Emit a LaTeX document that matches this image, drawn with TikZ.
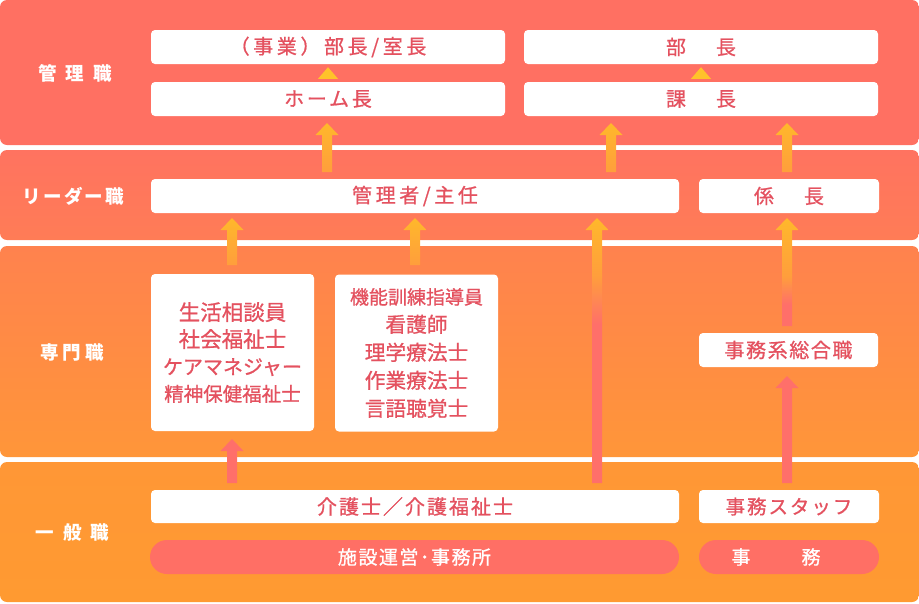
\documentclass[tikz,border=0pt]{standalone}
\usepackage{fontspec}
\setmainfont{Noto Sans CJK JP}
\usetikzlibrary{calc}
\definecolor{bandA}{HTML}{FF7062}
\definecolor{bandBt}{HTML}{FF7360}
\definecolor{bandBb}{HTML}{FF7C56}
\definecolor{bandCt}{HTML}{FF824E}
\definecolor{bandCb}{HTML}{FF9639}
\definecolor{bandDt}{HTML}{FF9736}
\definecolor{bandDb}{HTML}{FF9A31}
\definecolor{boxtext}{HTML}{E4515F}
\definecolor{pill}{HTML}{FF6F65}
\definecolor{ayel}{HTML}{FFB82B}
\definecolor{aora}{HTML}{FF9E3C}
\definecolor{acor}{HTML}{FF6F6A}
\definecolor{tri}{HTML}{FFC22A}
\pgfdeclareverticalshading{longshade}{100bp}{color(0bp)=(acor); color(55bp)=(acor); color(64bp)=(aora); color(75bp)=(ayel); color(100bp)=(ayel)}
\pgfdeclareverticalshading{midshade}{100bp}{color(0bp)=(acor); color(35bp)=(acor); color(48bp)=(aora); color(75bp)=(ayel); color(100bp)=(ayel)}
\newcommand\uparr[3]{%
  \shade[#3] let \p1=(#1), \p2=(#2) in
    (\x1-5pt,\y1) -- (\x1-5pt,\y2-12pt) -- (\x1-11.5pt,\y2-12pt) -- (\x1,\y2)
    -- (\x1+11.5pt,\y2-12pt) -- (\x1+5pt,\y2-12pt) -- (\x1+5pt,\y1) -- cycle;}
% box font: size, baselineskip, letter spacing
\newcommand\bxf[3]{\fontsize{#1}{#2}\selectfont\addfontfeature{LetterSpace=#3,FakeBold=0.8}}
\newcommand\lbf[1]{\bfseries\fontsize{18.5}{22}\selectfont\addfontfeature{LetterSpace=#1}}
\begin{document}
\begin{tikzpicture}[x=1pt,y=-1pt,
  band/.style={rounded corners=7pt},
  wbox/.style={fill=white, rounded corners=4pt, text=boxtext, inner sep=0pt, align=center,
    font=\bxf{20}{24}{18}},
  pillbox/.style={fill=pill, rounded corners=17pt, text=white, inner sep=0pt,
    font=\bxf{19}{22}{8}},
  lbl/.style={text=white, inner sep=0pt},
  yarrow/.style={top color=ayel, bottom color=aora},
  carrow/.style={top color=acor, bottom color=acor},
]
\useasboundingbox (0,0) rectangle (919,603);
% bands
\shade[band, top color=bandA, bottom color=bandA] (0,0) rectangle (919,145);
\shade[band, top color=bandBt, bottom color=bandBb] (0,150) rectangle (919,240);
\shade[band, top color=bandCt, bottom color=bandCb] (0,246) rectangle (919,457);
\shade[band, top color=bandDt, bottom color=bandDb] (0,462) rectangle (919,602);
% labels
\node[lbl, font=\lbf{48}] (l1) at (75,73) {管理職};
\node[lbl, font=\lbf{12}] (l2) at (73.5,196) {リーダー職};
\node[lbl, font=\lbf{22}] (l3) at (72,352) {専門職};
\node[lbl, font=\lbf{48}] (l4) at (72.5,532) {一般職};
% manager band
\node[wbox, minimum width=354pt, minimum height=34pt] (jigyo) at (328,47) {（事業）部長/室長};
\node[wbox, font=\bxf{20}{24}{0}, minimum width=354pt, minimum height=34pt] (bucho) at (701,47) {部\hspace{30pt}長};
\node[wbox, font=\bxf{20}{24}{14}, minimum width=354pt, minimum height=34pt] (home) at (328,99) {ホーム長};
\node[wbox, font=\bxf{20}{24}{0}, minimum width=354pt, minimum height=34pt] (kacho) at (701,99) {課\hspace{30pt}長};
% leader band
\node[wbox, minimum width=528pt, minimum height=34pt] (kanri) at (415,196) {管理者/主任};
\node[wbox, font=\bxf{20}{24}{0}, minimum width=180pt, minimum height=34pt] (kakari) at (789,196) {係\hspace{30pt}長};
% specialist band
\node[wbox, minimum width=163pt, minimum height=157pt, font=\bxf{20}{27}{0}] (boxa) at (232.5,352.5)
  {{\fontsize{21.5}{27}\selectfont 生活相談員}\\{\fontsize{21.5}{27}\selectfont 社会福祉士}\\ケアマネジャー\\{\fontsize{19.5}{27}\selectfont 精神保健福祉士}};
\node[wbox, minimum width=163pt, minimum height=157pt, font=\bxf{20.7}{28}{0}] (boxb) at (416.5,353)
  {{\fontsize{19}{28}\selectfont 機能訓練指導員}\\看護師\\理学療法士\\作業療法士\\言語聴覚士};
\node[wbox, minimum width=179pt, minimum height=34pt, font=\bxf{20}{24}{8}] (sogo) at (788.5,350) {事務系総合職};
% general band
\node[wbox, minimum width=528pt, minimum height=33pt, font=\bxf{20}{24}{10}] (kaigo) at (415,506.5) {介護士／介護福祉士};
\node[wbox, minimum width=180pt, minimum height=33pt, font=\bxf{19.5}{24}{10}] (staff) at (789,506.5) {事務スタッフ};
\node[pillbox, minimum width=529pt, minimum height=34pt] (shisetsu) at (414.5,557) {施設運営･事務所};
\node[pillbox, font=\bxf{19}{22}{0}, minimum width=180pt, minimum height=34pt] (jimu) at (789,557) {事\rule{51pt}{0pt}務\rule{26pt}{0pt}};
% small triangles
\fill[tri] ($(home.north)+(-10,-3)$) -- ($(jigyo.south)+(0,3)$) -- ($(home.north)+(10,-3)$) -- cycle;
\fill[tri] ($(kacho.north)+(-10,-3)$) -- ($(bucho.south)+(0,3)$) -- ($(kacho.north)+(10,-3)$) -- cycle;
% arrow end points
\coordinate (a1s) at (327,172); \coordinate (a1e) at (327,123);
\coordinate (a2s) at (611,172); \coordinate (a2e) at (611,123);
\coordinate (a3s) at (787,172); \coordinate (a3e) at (787,123);
\coordinate (a4s) at (232,265); \coordinate (a4e) at (232,218);
\coordinate (a5s) at (415,265); \coordinate (a5e) at (415,218);
\coordinate (a6s) at (597,483); \coordinate (a6e) at (597,218);
\coordinate (a7s) at (787,326); \coordinate (a7e) at (787,218);
\coordinate (a8s) at (232,483); \coordinate (a8e) at (232,439);
\coordinate (a9s) at (787,483); \coordinate (a9e) at (787,376);
\uparr{a1s}{a1e}{yarrow}
\uparr{a2s}{a2e}{yarrow}
\uparr{a3s}{a3e}{yarrow}
\uparr{a4s}{a4e}{yarrow}
\uparr{a5s}{a5e}{yarrow}
\uparr{a6s}{a6e}{shading=longshade}
\uparr{a7s}{a7e}{shading=midshade}
\uparr{a8s}{a8e}{carrow}
\uparr{a9s}{a9e}{carrow}
\end{tikzpicture}
\end{document}
